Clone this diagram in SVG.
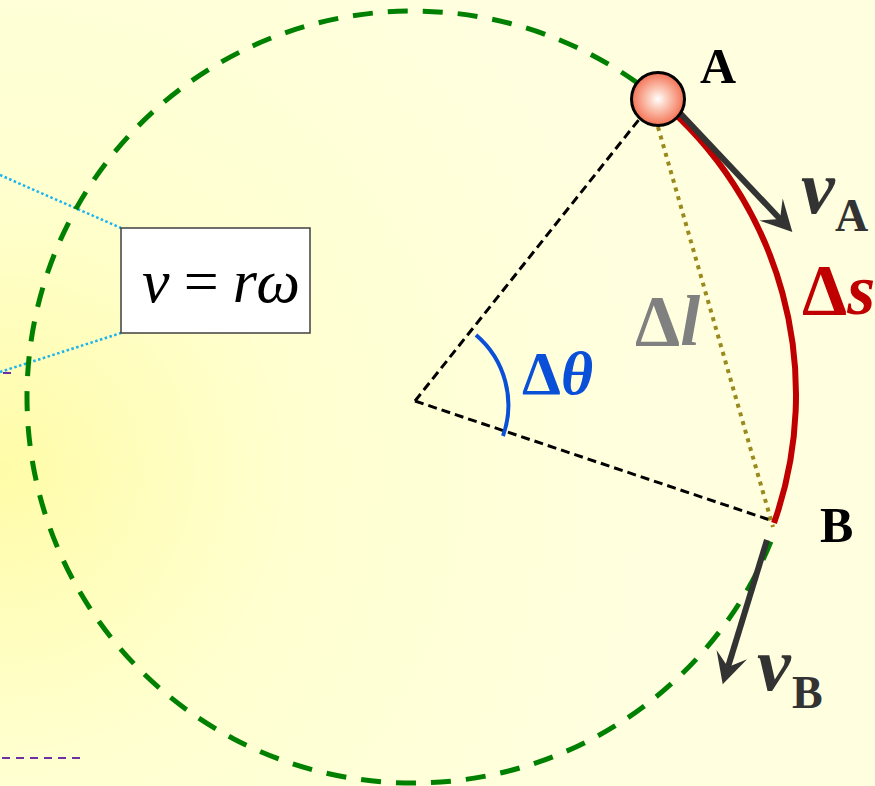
<svg xmlns="http://www.w3.org/2000/svg" width="875" height="786" viewBox="0 0 875 786">
<defs>
<radialGradient id="bg" cx="0" cy="470" r="650" gradientUnits="userSpaceOnUse">
<stop offset="0" stop-color="#FFFCA8"/>
<stop offset="0.45" stop-color="#FFFFD0"/>
<stop offset="1" stop-color="#FFFFDF"/>
</radialGradient>
<radialGradient id="ball" cx="0.5" cy="0.5" r="0.55">
<stop offset="0" stop-color="#FFFFFF"/>
<stop offset="0.3" stop-color="#FCCFBF"/>
<stop offset="1" stop-color="#F26444"/>
</radialGradient>
<marker id="arr" markerUnits="userSpaceOnUse" markerWidth="40" markerHeight="40" viewBox="0 -20 40 40" refX="15" refY="0" orient="auto">
<path d="M33,0 L2,-16 L15,0 L2,16 Z" fill="#333333"/>
</marker>
<style>
text{font-family:"Liberation Serif","Times New Roman",serif}
.b{font-weight:bold}
.i{font-style:italic}
.vel{stroke:#333333;stroke-width:6;fill:none;marker-end:url(#arr)}
.rad{stroke:#000;stroke-width:3;stroke-dasharray:9 5;fill:none}
.cyan{stroke:#16B4F0;stroke-width:2.5;stroke-dasharray:2.5 2.5;fill:none}
.purple{stroke:#7030A0;stroke-width:2;stroke-dasharray:8 6;fill:none}
</style>
</defs>
<rect x="0" y="0" width="875" height="786" fill="url(#bg)"/>

<g id="connectors">
<line class="cyan" x1="0" y1="175" x2="121" y2="228"/>
<line class="cyan" x1="0" y1="372" x2="121" y2="333"/>
<line class="purple" x1="3" y1="373" x2="11" y2="373" style="stroke-dasharray:none"/>
<line class="purple" x1="2" y1="758" x2="80" y2="758"/>
<path id="circle" d="M770.9,541.6 A386,386 0 1 1 658.2,98.9" fill="none" stroke="#008000" stroke-width="5" stroke-dasharray="20 15"/>
<line class="rad" x1="415" y1="401" x2="641" y2="117"/>
<line class="rad" x1="415" y1="401" x2="773" y2="521"/>
<line x1="658" y1="127" x2="773" y2="527" stroke="#9A8A1E" stroke-width="4" stroke-dasharray="4 5" fill="none"/>
<path id="arc-s" d="M658.2,98.9 A386,386 0 0 1 774,523" fill="none" stroke="#C00000" stroke-width="6"/>
<path id="arc-theta" d="M476,335 A92,92 0 0 1 503,436" fill="none" stroke="#0A4FD8" stroke-width="4"/>
<line class="vel" x1="680" y1="113" x2="780" y2="219"/>
<line class="vel" x1="767" y1="540" x2="728" y2="667"/>
</g>

<g id="ballA">
<circle cx="658" cy="99" r="26.5" fill="url(#ball)" stroke="#000" stroke-width="3"/>
</g>

<g id="formula">
<rect x="121" y="228" width="189" height="105" fill="#FFFFFF" stroke="#404040" stroke-width="1.5"/>
<text x="142" y="302" font-size="62" fill="#000" textLength="158" lengthAdjust="spacing"><tspan class="i">v</tspan> = <tspan class="i">rω</tspan></text>
</g>

<g id="labelA"><text class="b" x="700" y="83" font-size="50" fill="#000">A</text></g>
<g id="labelB"><text class="b" x="820" y="542" font-size="50" fill="#000">B</text></g>
<g id="labelVA"><text class="b" fill="#333333"><tspan class="i" x="801" y="213" font-size="76">v</tspan><tspan x="835" y="231" font-size="46">A</tspan></text></g>
<g id="labelVB"><text class="b" fill="#333333"><tspan class="i" x="757" y="690" font-size="76">v</tspan><tspan x="792" y="708" font-size="46">B</tspan></text></g>
<g id="labelDs"><text class="b" x="802" y="314" font-size="72" fill="#C00000">Δ<tspan class="i">s</tspan></text></g>
<g id="labelDl"><text class="b" x="635" y="345" font-size="72" fill="#808080">Δ<tspan class="i">l</tspan></text></g>
<g id="labelDt"><text class="b" x="522" y="394" font-size="62" fill="#0A4FD8">Δ<tspan class="i">θ</tspan></text></g>
</svg>
